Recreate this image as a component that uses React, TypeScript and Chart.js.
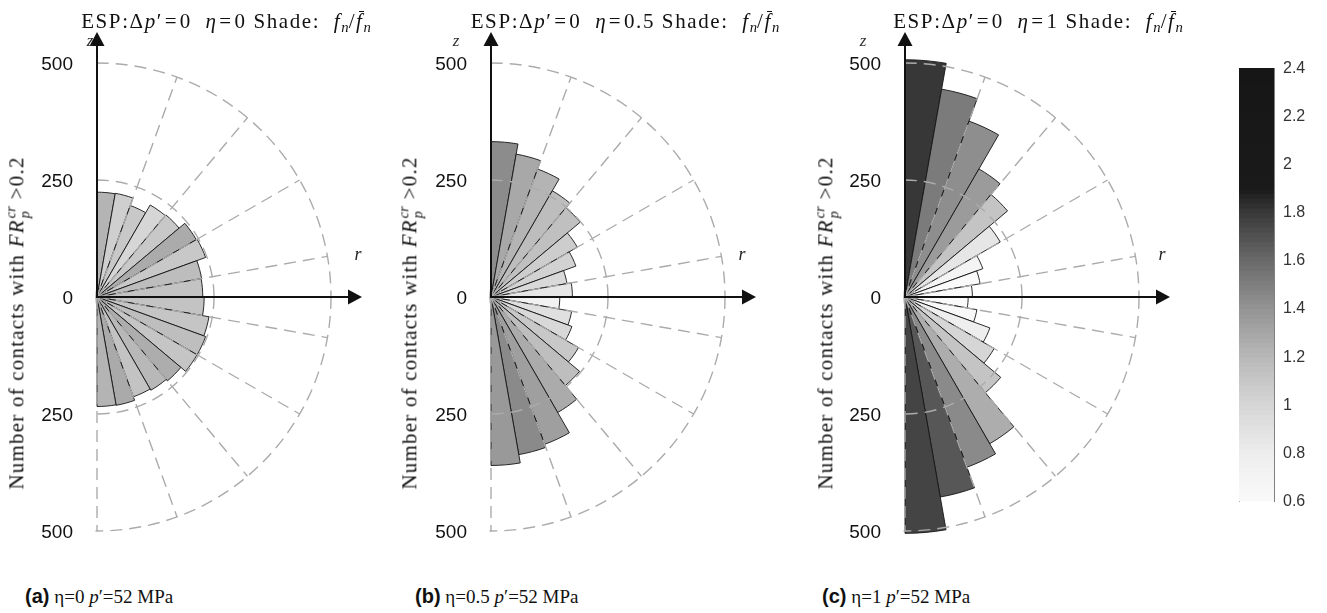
import React, { useEffect, useRef } from 'react';
import { Chart, registerables } from 'chart.js';

Chart.register(...registerables);

// ---------- data ----------
const sectorLabels = ['0°', '10°', '20°', '30°', '40°', '50°', '60°', '70°', '80°', '90°', '100°', '110°', '120°', '130°', '140°', '150°', '160°', '170°'];

const countsA = [224, 225, 208, 227, 229, 245, 247, 227, 226, 229, 243, 247, 247, 234, 230, 227, 235, 234];
const shadeA = [1.22, 1.05, 1.09, 1.0, 1.09, 1.27, 1.09, 1.17, 1.13, 1.13, 1.11, 1.16, 1.11, 1.26, 1.2, 1.13, 1.28, 1.22];

const countsB = [332, 310, 291, 262, 249, 213, 193, 165, 174, 147, 175, 184, 216, 247, 285, 335, 342, 360];
const shadeB = [1.44, 1.29, 1.22, 1.17, 1.15, 1.06, 1.03, 0.97, 0.86, 0.72, 0.91, 0.98, 1.09, 1.16, 1.27, 1.34, 1.45, 1.37];

const countsC = [507, 451, 400, 316, 286, 235, 177, 163, 144, 135, 156, 193, 220, 267, 362, 387, 434, 505];
const shadeC = [1.81, 1.52, 1.43, 1.36, 1.12, 0.86, 0.69, 0.6, 0.6, 0.6, 0.63, 0.78, 1.0, 1.12, 1.26, 1.45, 1.68, 1.76];

const etaValues = ['0', '0.5', '1'];
const panelLetters = ['a', 'b', 'c'];
const pressureLabel = '52 MPa';

const rAxisTicks = [500, 250, 0, -250, -500];
const rMax = 500;
const rStep = 250;

const cbTicks = [2.4, 2.2, 2, 1.8, 1.6, 1.4, 1.2, 1, 0.8, 0.6];
const cbMin = 0.6;
const cbMax = 2.4;
const cmapStops = [0.6, 0.8, 1.0, 1.2, 1.4, 1.6, 1.8, 1.9, 2.4];
const cmapGray = [250, 237, 214, 184, 148, 106, 58, 26, 22];

// ---------- helpers ----------
const SERIF = '"Liberation Serif", "Times New Roman", serif';
const SANS = '"Liberation Sans", Arial, Helvetica, sans-serif';

function shadeColor(v: number): string {
  let g = cmapGray[cmapGray.length - 1];
  if (v <= cmapStops[0]) g = cmapGray[0];
  else {
    for (let i = 1; i < cmapStops.length; i++) {
      if (v <= cmapStops[i]) {
        const t = (v - cmapStops[i - 1]) / (cmapStops[i] - cmapStops[i - 1]);
        g = cmapGray[i - 1] + t * (cmapGray[i] - cmapGray[i - 1]);
        break;
      }
    }
  }
  const c = Math.round(g);
  return `rgb(${c},${c},${c})`;
}

const halfRosePlugin = {
  id: 'halfRose',
  beforeDraw(chart: any) {
    const s = chart.scales.r;
    const ctx = chart.ctx;
    ctx.save();
    ctx.beginPath();
    ctx.rect(s.xCenter - 1.5, 0, chart.width, chart.height);
    ctx.clip();
  },
  afterDraw(chart: any) {
    const s = chart.scales.r;
    const ctx = chart.ctx;
    ctx.restore();
    const xc = s.xCenter;
    const yc = s.yCenter;
    const reach = s.getDistanceFromCenterForValue(rMax);
    const tip = reach + 31;
    const head = 14;
    const half = 7.5;
    ctx.save();
    ctx.strokeStyle = '#111';
    ctx.fillStyle = '#111';
    ctx.lineWidth = 2;
    ctx.beginPath();
    ctx.moveTo(xc, yc);
    ctx.lineTo(xc, yc - tip + head);
    ctx.moveTo(xc - 1, yc);
    ctx.lineTo(xc + tip - head, yc);
    ctx.stroke();
    ctx.beginPath();
    ctx.moveTo(xc, yc - tip);
    ctx.lineTo(xc - half, yc - tip + head);
    ctx.lineTo(xc + half, yc - tip + head);
    ctx.closePath();
    ctx.fill();
    ctx.beginPath();
    ctx.moveTo(xc + tip, yc);
    ctx.lineTo(xc + tip - head, yc - half);
    ctx.lineTo(xc + tip - head, yc + half);
    ctx.closePath();
    ctx.fill();
    ctx.font = `19px ${SANS}`;
    ctx.textAlign = 'right';
    ctx.textBaseline = 'middle';
    rAxisTicks.forEach((v) => {
      const d = s.getDistanceFromCenterForValue(Math.abs(v));
      const y = yc - Math.sign(v) * d;
      ctx.fillText(String(Math.abs(v)), xc - 24, y + 2);
    });
    ctx.restore();
  },
};

const CANVAS = 560;

function RosePanel({ counts, shades, ox, oy }: { counts: number[]; shades: number[]; ox: number; oy: number }) {
  const ref = useRef<HTMLCanvasElement | null>(null);
  useEffect(() => {
    if (!ref.current) return;
    const chart = new Chart(ref.current, {
      type: 'polarArea',
      data: {
        labels: sectorLabels,
        datasets: [
          {
            data: counts,
            backgroundColor: shades.map(shadeColor),
            borderColor: '#151515',
            borderWidth: 0.9,
            angle: 10,
            clip: false,
          } as any,
        ],
      },
      options: {
        animation: false,
        responsive: false,
        maintainAspectRatio: false,
        layout: { padding: (CANVAS - 468) / 2 },
        plugins: { legend: { display: false }, tooltip: { enabled: false } },
        scales: {
          r: {
            min: 0,
            max: rMax,
            startAngle: 0,
            ticks: { display: false, stepSize: rStep },
            grid: { circular: true, color: '#ababab', lineWidth: 1.4, z: 1 },
            border: { dash: [12, 7] },
            angleLines: { display: true, color: '#ababab', lineWidth: 1.4, borderDash: [12, 7] },
            pointLabels: { display: false },
          } as any,
        },
      } as any,
      plugins: [halfRosePlugin],
    });
    return () => chart.destroy();
  }, []);
  return (
    <canvas
      ref={ref}
      width={CANVAS}
      height={CANVAS}
      style={{ position: 'absolute', left: ox - CANVAS / 2, top: oy - CANVAS / 2, width: CANVAS, height: CANVAS }}
    />
  );
}

function ColorBar() {
  const ref = useRef<HTMLCanvasElement | null>(null);
  useEffect(() => {
    if (!ref.current) return;
    const binStep = 0.02;
    const los: number[] = [];
    for (let lo = cbMax - binStep; lo >= cbMin - 1e-9; lo -= binStep) los.push(lo);
    const chart = new Chart(ref.current, {
      type: 'bar',
      data: {
        labels: ['f'],
        datasets: los.map((lo) => ({
          data: [[lo, cbMax]],
          backgroundColor: shadeColor(lo + binStep / 2),
          borderWidth: 0,
          grouped: false,
          barPercentage: 1,
          categoryPercentage: 1,
          yAxisID: 'y',
        })) as any,
      },
      options: {
        animation: false,
        responsive: false,
        maintainAspectRatio: false,
        layout: { padding: { left: 9, top: 17, right: 0, bottom: 17 } },
        plugins: { legend: { display: false }, tooltip: { enabled: false } },
        scales: {
          x: { display: false },
          y: {
            position: 'right',
            min: cbMin,
            max: cbMax,
            afterBuildTicks: (s: any) => {
              s.ticks = cbTicks.map((v) => ({ value: v }));
            },
            afterFit: (s: any) => {
              s.width = 53;
            },
            ticks: {
              autoSkip: false,
              padding: 9,
              color: '#333',
              font: { family: 'Liberation Sans', size: 16 },
              callback: (v: any) => String(Number(Number(v).toFixed(1))),
            },
            grid: { display: false, drawTicks: false },
            border: { display: true, color: '#808080', width: 1 },
          },
          yL: {
            type: 'linear',
            position: 'left',
            min: cbMin,
            max: cbMax,
            afterFit: (s: any) => {
              s.width = 0;
            },
            ticks: { display: false },
            grid: { display: false, drawTicks: false },
            border: { display: true, color: '#808080', width: 1 },
          },
        },
      } as any,
    });
    return () => chart.destroy();
  }, []);
  return <canvas ref={ref} width={97} height={470} style={{ position: 'absolute', left: 1230, top: 50, width: 97, height: 470 }} />;
}

const Sub = ({ children }: { children: any }) => (
  <i style={{ fontSize: '0.7em', verticalAlign: '-0.28em', lineHeight: 0, letterSpacing: 0 }}>{children}</i>
);
const Eq = () => <span style={{ margin: '0 0.08em' }}>=</span>;

function PanelTitle({ cx, eta }: { cx: number; eta: string }) {
  return (
    <div
      style={{
        position: 'absolute',
        left: cx - 250,
        width: 500,
        top: 10,
        textAlign: 'center',
        fontFamily: SERIF,
        fontSize: 21,
        letterSpacing: '1.6px',
        lineHeight: '22px',
        whiteSpace: 'nowrap',
        color: '#111',
      }}
    >
      ESP:Δ<i>p</i>′<Eq />0&nbsp;&nbsp;<i>η</i>
      <Eq />
      {eta} Shade:&nbsp;&nbsp;<i>f</i>
      <Sub>n</Sub>/
      <span style={{ position: 'relative', display: 'inline-block' }}>
        <i>f</i>
        <span style={{ position: 'absolute', left: '0.12em', right: '-0.02em', top: '0.05em', borderTop: '1px solid #111' }} />
      </span>
      <Sub>n</Sub>
    </div>
  );
}

function YLabel({ cx, cy }: { cx: number; cy: number }) {
  return (
    <div
      style={{
        position: 'absolute',
        left: cx,
        top: cy,
        transform: 'translate(-50%, -50%) rotate(-90deg)',
        whiteSpace: 'nowrap',
        fontFamily: SERIF,
        fontSize: 21,
        letterSpacing: '1.2px',
        lineHeight: '24px',
        color: '#111',
      }}
    >
      Number of contacts with <i>FR</i>
      <span
        style={{
          display: 'inline-flex',
          flexDirection: 'column',
          fontSize: '0.68em',
          lineHeight: '0.95em',
          verticalAlign: '0.55em',
          fontStyle: 'italic',
          letterSpacing: 0,
          marginLeft: 1,
          marginRight: 7,
        }}
      >
        <span>cr</span>
        <span>p</span>
      </span>
      &gt;0.2
    </div>
  );
}

function Caption({ x, letter, eta }: { x: number; letter: string; eta: string }) {
  return (
    <div style={{ position: 'absolute', left: x, top: 585, whiteSpace: 'nowrap', fontSize: 19, lineHeight: '22px', color: '#111' }}>
      <span style={{ fontFamily: SANS, fontWeight: 'bold', fontSize: 20 }}>({letter})</span>
      <span style={{ fontFamily: SERIF }}>
        {' '}η={eta} <i>p</i>′={pressureLabel}
      </span>
    </div>
  );
}

const panelCounts = [countsA, countsB, countsC];
const panelShades = [shadeA, shadeB, shadeC];
const originX = [97, 491, 905];
const originY = 297;
const titleCx = [226, 625, 1038];
const yLabelCx = [18, 411, 827];
const zLabelX = [90, 456, 863];
const rLabelX = [358, 742, 1162];
const captionX = [25, 415, 822];

export default function App() {
  return (
    <div style={{ position: 'absolute', left: 0, top: 0, width: 1327, height: 613, overflow: 'hidden', background: '#fff' }}>
      {panelCounts.map((c, i) => (
        <RosePanel key={'p' + i} counts={c} shades={panelShades[i]} ox={originX[i]} oy={originY} />
      ))}
      <ColorBar />
      {etaValues.map((eta, i) => (
        <React.Fragment key={'t' + i}>
          <PanelTitle cx={titleCx[i]} eta={eta} />
          <YLabel cx={yLabelCx[i]} cy={323} />
          <div
            style={{
              position: 'absolute',
              left: zLabelX[i] - 10,
              width: 20,
              top: 31,
              textAlign: 'center',
              fontFamily: SERIF,
              fontStyle: 'italic',
              fontSize: 17,
              lineHeight: '20px',
              color: '#333',
            }}
          >
            z
          </div>
          <div
            style={{
              position: 'absolute',
              left: rLabelX[i] - 10,
              width: 20,
              top: 244,
              textAlign: 'center',
              fontFamily: SERIF,
              fontStyle: 'italic',
              fontSize: 18,
              lineHeight: '20px',
              color: '#222',
            }}
          >
            r
          </div>
          <Caption x={captionX[i]} letter={panelLetters[i]} eta={eta} />
        </React.Fragment>
      ))}
    </div>
  );
}
